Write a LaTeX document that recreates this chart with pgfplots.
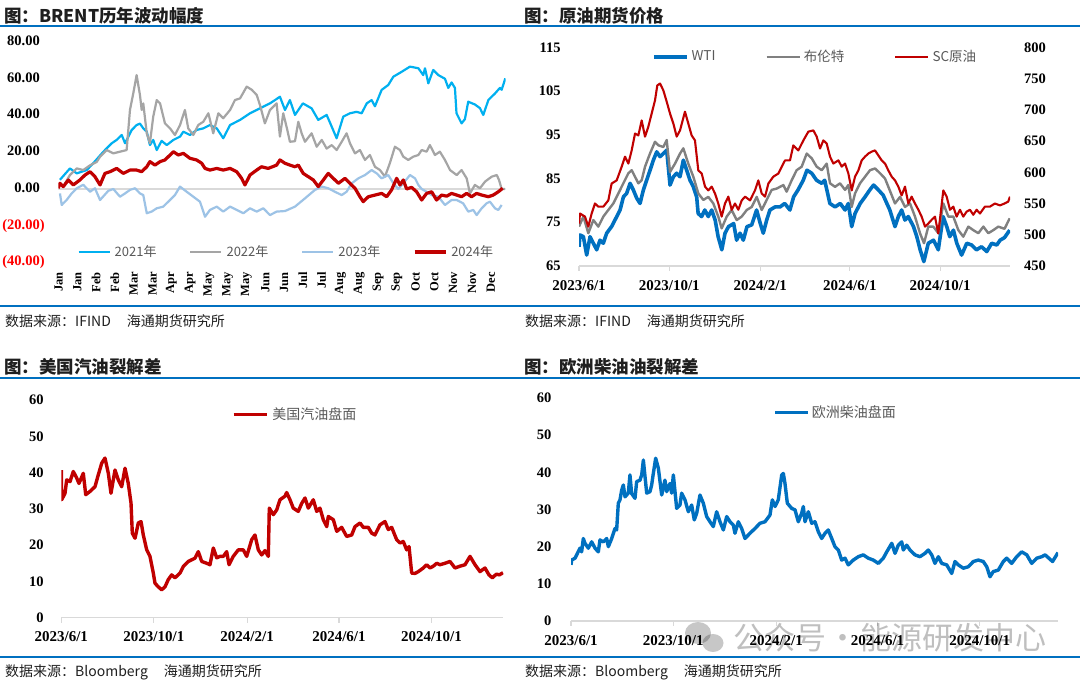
\documentclass[border=0pt]{standalone}
\usepackage{pgfplots}
\pgfplotsset{compat=1.18}
\usepackage{fontspec}
\setmainfont{Liberation Serif}
\newfontfamily\cjk{Noto Sans CJK SC}
\definecolor{c21}{HTML}{00B0F0}
\definecolor{c22}{HTML}{A5A5A5}
\definecolor{c23}{HTML}{9DC3E6}
\definecolor{c24}{HTML}{C00000}
\definecolor{wti}{HTML}{0070C0}
\definecolor{brent}{HTML}{808080}
\definecolor{rulec}{HTML}{0070C0}
\definecolor{legtxt}{HTML}{595959}
\definecolor{axl}{HTML}{D9D9D9}
\definecolor{titc}{HTML}{1F1F1F}
\definecolor{negred}{HTML}{FF0000}
\pgfplotsset{
  base/.style={scale only axis, anchor=south west,
    ytick style={draw=none},
    yticklabel style={anchor=east, inner sep=0pt, font=\bfseries\fontsize{14.5}{14.5}\selectfont},
    xticklabel style={inner sep=0pt},
    legend style={draw=none, fill=none, inner sep=0pt, outer sep=0pt, nodes={inner sep=0pt}},
  },
  dateaxis/.style={axis x line*=bottom, axis y line*=left, y axis line style={draw=none},
    x axis line style={draw=axl, line width=1.2pt},
    xtick style={draw=axl, line width=1.2pt}, tick align=outside, major tick length=5pt,
    xticklabel style={font=\bfseries\fontsize{15}{15}\selectfont, anchor=north, yshift=-9pt},
    xticklabels={2023/6/1,2023/10/1,2024/2/1,2024/6/1,2024/10/1},
    xtick={0,122,245,366,488}},
}
\begin{document}
\begin{tikzpicture}[x=1pt,y=1pt]
\useasboundingbox (0,0) rectangle (1080,683);
\fill[white] (0,0) rectangle (1080,683);
% rules
\draw[rulec, line width=2pt] (0,{683-26}) -- (1080,{683-26});
\draw[rulec, line width=2pt] (0,{683-305.7}) -- (1080,{683-305.7});
\draw[rulec, line width=2pt] (0,{683-377.7}) -- (1080,{683-377.7});
\draw[rulec, line width=2pt] (0,{683-657.3}) -- (1080,{683-657.3});
% titles
\node[anchor=west, inner sep=0pt, font=\cjk\bfseries\fontsize{17.5}{20}\selectfont, text=titc] at (4,{683-15.5}) {图：BRENT历年波动幅度};
\node[anchor=west, inner sep=0pt, font=\cjk\bfseries\fontsize{17.5}{20}\selectfont, text=titc] at (524,{683-15.5}) {图：原油期货价格};
\node[anchor=west, inner sep=0pt, font=\cjk\bfseries\fontsize{17.5}{20}\selectfont, text=titc] at (4,{683-367}) {图：美国汽油裂解差};
\node[anchor=west, inner sep=0pt, font=\cjk\bfseries\fontsize{17.5}{20}\selectfont, text=titc] at (524,{683-367}) {图：欧洲柴油油裂解差};
% sources
\node[anchor=west, inner sep=0pt, font=\cjk\fontsize{14}{16}\selectfont, text=titc] at (5,{683-321}) {数据来源：IFIND\hspace{16pt}海通期货研究所};
\node[anchor=west, inner sep=0pt, font=\cjk\fontsize{14}{16}\selectfont, text=titc] at (525,{683-321}) {数据来源：IFIND\hspace{16pt}海通期货研究所};
\node[anchor=west, inner sep=0pt, font=\cjk\fontsize{14}{16}\selectfont, text=titc] at (5,{683-672}) {数据来源：Bloomberg\hspace{16pt}海通期货研究所};
\node[anchor=west, inner sep=0pt, font=\cjk\fontsize{14}{16}\selectfont, text=titc] at (525,{683-672}) {数据来源：Bloomberg\hspace{16pt}海通期货研究所};

% ---------------- top-left ----------------
\begin{axis}[base, at={(58.5pt,420.5pt)}, width=447pt, height=220.5pt,
  xmin=0.86, xmax=256.3, ymin=-40, ymax=80,
  axis line style={draw=none}, xtick style={draw=none},
  ytick={-40,-20,0,20,40,60,80},
  yticklabels={{\color{negred}(40.00)},{\color{negred}(20.00)},0.00\phantom{)},20.00\phantom{)},40.00\phantom{)},60.00\phantom{)},80.00\phantom{)}},
  yticklabel style={xshift=-13.7pt},
  xtick={0.86,11.6,22.34,33.08,43.82,54.56,65.3,76.04,86.78,97.52,108.26,119,129.74,140.48,151.22,161.96,172.7,183.44,194.18,204.92,215.66,226.4,237.14,247.88},
  xticklabels={Jan,Jan,Feb,Feb,Mar,Mar,Apr,Apr,May,May,May,Jun,Jun,Jul,Jul,Aug,Aug,Sep,Sep,Oct,Oct,Nov,Nov,Dec},
  xticklabel shift=9.5pt,
  xticklabel style={rotate=90, anchor=east, font=\bfseries\fontsize{12.5}{12.5}\selectfont},
  legend columns=4,
  legend style={at={(0.0425,0.0476)}, anchor=west, font=\cjk\fontsize{13}{13}\selectfont, text=legtxt,
    /tikz/every odd column/.style={column sep=4pt}, /tikz/every even column/.style={column sep=32.8pt}},
  legend image code/.code={\draw[#1] (0pt,0pt) -- (31pt,0pt);},
  every axis plot/.append style={line join=round},
]
\draw[axl, line width=1.2pt] (axis cs:0.86,0) -- (axis cs:256.3,0);
\addplot[c21, line width=2.2pt] coordinates {(1.7,5) (7.4,11.2) (11.3,8.5) (17,10.3) (20.7,14) (26.5,20.3) (31.3,24.9) (34.1,26.7) (37,29.4) (38.9,24.9) (42.7,32.1) (45.5,34.8) (47.4,35.6) (49.3,33) (51.3,31.2) (53.1,23.9) (55,26.7) (57,21.2) (59.8,26.2) (62.7,23.9) (66.5,26.7) (70.3,28.5) (72.2,31.2) (76,29.4) (79.8,32.1) (83.6,33) (87.4,34.8) (91.3,33) (95,27.6) (98.9,34.8) (104.6,37.6) (110.3,41.2) (116,43.9) (121.7,46.6) (124.6,48.4) (127.4,50.2) (130.3,43) (133.1,48.4) (136,40.3) (140.5,46.6) (145.5,43.9) (149.3,37.6) (154.1,40.3) (157,33.9) (159.8,27.6) (163.6,39.4) (167.4,41.2) (171.2,42) (174.1,41.2) (177,46.6) (179.8,48.4) (181.7,45) (185.5,53.9) (189.3,56.6) (192.2,61.1) (197,63.8) (201.7,66.6) (206.5,65.7) (209.3,62) (210.3,65.7) (212.2,57.5) (215,64.8) (217.9,62) (221.7,60) (223.6,55) (225.5,58) (227.4,55) (228.3,41.2) (231.2,35.7) (233.1,38) (235,47.5) (238.8,46) (241.7,44) (243.6,40.3) (246.5,48.4) (250.3,52) (253.1,55) (254.1,54) (256.2,60.2)};
\addlegendentry{2021年}
\addplot[c22, line width=2.2pt] coordinates {(4.6,3.1) (7.4,7.6) (11.3,11.2) (15,10.3) (18.9,12.9) (22.7,14.7) (24.6,17.6) (28.4,21.2) (32.2,19.4) (36,20.3) (39.8,21.2) (41.7,43) (43.6,52.1) (45.5,62) (47.4,51.2) (48.4,43) (49.3,46.6) (51.3,30.3) (53.1,24.9) (55,39.4) (57,48.4) (58.9,46.6) (61.7,35.7) (64.6,33) (67.4,29.4) (70.3,34.8) (73.1,43) (75,33) (77.9,29.4) (80.7,34.8) (83.6,36.6) (86.5,41.2) (89.3,30.3) (92.2,41.2) (95,38.5) (98.9,43) (101.7,48.4) (104.6,49.3) (108.4,55.7) (111.3,54) (114.1,51.2) (116,45.7) (118.8,35.7) (121.7,43) (125.5,46.6) (127.4,28.5) (129.3,41.2) (131.4,33) (133.1,25.7) (136,26) (137.9,36.6) (139.8,30.3) (141.7,25.7) (145.5,30.3) (148.4,23) (151.3,26.7) (154.1,22) (157,23.9) (159.8,21.2) (162.7,25.7) (165.5,30.3) (167.4,24.9) (170.3,19.4) (173.1,21.2) (176,15.8) (178.8,18.5) (181.7,12.1) (184.6,10.3) (187.4,6.7) (190.2,14) (193.1,23) (196,21.2) (197.9,17.6) (200.7,15.8) (203.6,17.6) (206.5,18.5) (208.4,21.2) (211.2,20.3) (213.1,23.9) (216,18.5) (218.8,20.3) (221.7,15.8) (224.6,10.3) (228.4,7.6) (231.2,10.3) (234.1,5.8) (236,-2.4) (238.8,2.2) (241.7,0.4) (244.6,4) (248.4,6.7) (251.3,7.6) (252.6,4.9) (254.1,0) (256,0)};
\addlegendentry{2022年}
\addplot[c23, line width=2.2pt] coordinates {(1.7,-2.4) (2.7,-8.7) (5.5,-6) (8.4,-2.4) (11.3,0.4) (15,2.3) (18.9,-1.5) (21.7,0.4) (24.6,-6) (29.3,-1) (32.2,0) (36,-4.2) (38.9,-2.4) (41.7,-0.5) (44.6,0.4) (47.4,-2.4) (49.3,-3.3) (51.3,-13.2) (54.1,-12.3) (57,-10.5) (60.7,-9.6) (63.6,-6.9) (67.4,-3.3) (70.3,1.3) (74.1,-1.5) (77.9,-4.2) (81.7,-6.9) (84.6,-15.1) (87.4,-11.4) (91.3,-9.6) (95,-12.3) (98.9,-9.6) (102.7,-11.4) (106.5,-13.2) (110.3,-10.5) (114.1,-12.3) (117.9,-10.5) (121.7,-14.2) (125.5,-12.3) (130.3,-12) (136,-9.6) (141.7,-5.1) (147.4,-0.5) (151.3,1.3) (155,0.4) (158.8,-1.5) (162.7,-3.3) (165.5,-1.5) (168.4,3.1) (172.2,5.8) (176,7.6) (179.8,10.3) (182.7,8.5) (185.5,5.8) (189.3,7.6) (192.2,3.1) (195,0) (197.9,3.1) (201.7,7.6) (204.6,5.8) (206.5,2.2) (208.4,0) (211.2,-1.5) (214.1,-3.3) (217.9,-4.2) (221.7,-8.7) (225.5,-6) (228.4,-6) (232.1,-7.8) (235,-12.3) (237.9,-11.4) (239.8,-14.2) (242.7,-10.5) (245.5,-7.8) (247.4,-6.9) (250.3,-10.5) (252.2,-11.4) (254.1,-8.7)};
\addlegendentry{2023年}
\addplot[c24, line width=3.2pt] coordinates {(0.7,0.4) (1.7,3.1) (3.6,1.3) (6.5,4.9) (9.3,2.2) (13.1,4.9) (16,7.6) (18.9,9.4) (21.7,6.7) (24.6,2.2) (27.4,8.5) (30.3,9.4) (34.1,11.2) (37.9,8.5) (41.7,10.3) (45.5,10.3) (48.4,9.4) (51.3,12.1) (53.1,14.9) (56,13) (58.9,14.9) (61.7,15.8) (64.6,18.5) (66.5,20.3) (69.3,18.5) (72.2,19.4) (76,16.7) (79.8,15.8) (82.7,14) (84.6,11.2) (87.4,10.3) (91.3,11.2) (95,10.3) (98.9,11.2) (102.7,9.4) (105.5,5.8) (107.4,2.2) (110.3,7.6) (114.1,10.3) (116.9,12.1) (120.7,11.2) (125.5,13) (127.4,15.8) (130.3,14) (133.1,13) (136,12.1) (137.9,13) (140.7,8.5) (143.6,6.7) (146.5,4.9) (149.3,1.3) (152.2,4.9) (155,8.5) (157.9,5.8) (160.8,3.1) (164.6,5.8) (167.4,3.1) (170.3,0.4) (173.1,-4.2) (175,-6.9) (177.9,-4.2) (181.7,-3.3) (185.5,-2.4) (188.4,-4.2) (191.2,-0.5) (194.1,5.8) (196,2.2) (197.9,4.9) (199.8,0) (202.6,0.9) (205.5,-1.5) (208.4,-6) (211.2,-2.4) (214.1,-1.5) (216.9,-6) (219.8,-3.3) (222.7,-3.9) (225.5,-2.4) (228.4,-3.3) (231.2,-4.2) (234.1,-2.4) (236.9,-4.2) (239.8,-2.4) (242.7,-3.3) (246.5,-4.2) (249.3,-3.3) (252.2,-1.5) (254.7,0.4)};
\addlegendentry{2024年}
\end{axis}

% ---------------- top-right ----------------
\begin{axis}[base, dateaxis, at={(579pt,417pt)}, width=431pt, height=218.7pt,
  xmin=0, xmax=582.4, ymin=65, ymax=115,
  ytick={65,75,85,95,105,115}, yticklabels={65,75,85,95,105,115},
  yticklabel style={xshift=-13.2pt},
  every axis plot/.append style={line join=round}]
\addplot[wti, line width=3.6pt] coordinates {(0,69.4) (1.4,72.1) (5.9,71.7) (10.4,67.5) (14.9,71.7) (19.4,70.2) (23.9,68.7) (28.4,70.9) (32.8,70.2) (37.4,72.5) (44,74) (51,76.3) (55.5,77.8) (60,80.8) (64.4,81.6) (69,83.9) (73.4,82.4) (78,80.5) (82.5,79.3) (87,82.4) (91.4,84.6) (96,86.9) (100.5,89.2) (105,91.1) (109.5,90) (114,90.7) (118.5,91.5) (123,83.5) (127.5,85.4) (132,86.2) (136.5,85.4) (141,89.2) (145.5,86.9) (150,84.6) (154.5,83.1) (159,80.8) (161,77) (165.7,76.3) (170,77.8) (174.7,76.3) (179.3,77.8) (184,75.5) (188,71.7) (193,68.7) (197.3,72.5) (202,74) (209,74.7) (213,70.9) (217.6,72.5) (222,70.9) (227,74) (233.4,74.4) (240,77.8) (245,74.7) (249,72.5) (253.6,75.5) (258,77.8) (264.9,78.5) (271.6,78.5) (278,79.3) (285,77.8) (290,80.8) (296,82.4) (303,84.6) (308,86.9) (314.5,86.2) (321,84.6) (328,83.9) (332,84.6) (339,79.3) (346,78.5) (353,79.3) (359.5,77.8) (364,79.3) (368.5,74) (373,77) (380,79.3) (386.5,80.8) (393,82.4) (398,83.5) (404.5,82.4) (411,81.2) (416,79.3) (420,77.8) (427,74) (431.5,76.3) (436,77.8) (440.5,75.5) (445,76.3) (452,74) (456.5,71.7) (461,68.7) (466,66) (472,70.2) (479,70.9) (485.5,68.7) (492,76.3) (497,74) (501,71.7) (506,73.2) (510.5,70.2) (517,67.5) (524,70.2) (530.5,69.8) (537,68.7) (544,69.4) (551,68.3) (557.7,70.2) (564.5,69.8) (569,70.9) (575,71.5) (582,73.2)};
\addplot[brent, line width=2.4pt] coordinates {(0,74) (5.9,76.3) (12.6,72.5) (19.4,75.5) (26.1,74) (32.9,76.3) (39.6,77.8) (46.4,79.3) (53.2,81.6) (59.9,83.9) (66.7,86.2) (71.2,86.9) (75.7,85.4) (80.2,83.9) (84.7,84.6) (89.2,87.7) (95.9,90.7) (102.7,93.4) (107.2,92.6) (114,92.2) (118.5,93.8) (123,86.5) (129.7,88.4) (136.5,90.7) (141,91.9) (147.7,88.4) (154.5,85.4) (161.2,81.6) (168,80.1) (174.7,80.8) (181.5,79.3) (188.2,76.3) (192.8,73.6) (199.6,76.3) (206.3,77.8) (213.1,75.5) (219.9,76.3) (226.6,77.8) (233.4,78.5) (240.1,80.8) (246.9,77.8) (253.6,80.1) (260.4,82.4) (267.2,82.7) (271.6,83.1) (276.1,83.5) (280.6,82) (287.4,84.6) (294.1,86.9) (300.9,87.7) (307.7,90.7) (314.5,89.6) (321.2,87.7) (328,86.9) (334.7,88.4) (339.2,83.9) (346,83.1) (352.7,83.9) (359.5,82.4) (363.9,83.5) (368.5,78.5) (373,81.6) (379.7,83.9) (386.5,85.4) (393.2,86.9) (400,87.3) (406.8,86.2) (413.5,85) (418,83.1) (427,79.3) (433.8,80.8) (440.5,78.5) (447.3,79.3) (454,76.3) (460.8,72.5) (466.2,70.2) (472,74) (478.8,74) (485.5,72.5) (492.3,79.3) (499,76.3) (505.8,76.3) (512.6,73.2) (519.3,71.7) (526.1,74) (532.8,73.2) (539.6,72.5) (546.4,74) (553.1,72.5) (559.9,73.2) (566.6,74) (575,73.5) (582,75.9)};
\end{axis}
\begin{axis}[base, at={(579pt,417pt)}, width=431pt, height=218.7pt,
  xmin=0, xmax=582.4, ymin=450, ymax=800,
  axis x line=none, axis y line*=right, y axis line style={draw=none},
  ytick={450,500,550,600,650,700,750,800}, yticklabels={450,500,550,600,650,700,750,800},
  yticklabel style={anchor=west, xshift=13.8pt},
  legend columns=3,
  legend style={at={(0.1694,0.957)}, anchor=west, font=\cjk\fontsize{13.5}{13.5}\selectfont, text=legtxt,
    /tikz/every odd column/.style={column sep=3pt}, /tikz/every even column/.style={column sep=50pt}},
  legend image code/.code={\draw[#1] (0pt,0pt) -- (33pt,0pt);},
  every axis plot/.append style={line join=round}]
\addlegendimage{wti, line width=3.6pt}
\addlegendentry{WTI}
\addlegendimage{brent, line width=2.4pt}
\addlegendentry{布伦特}
\addplot[c24, line width=2.1pt] coordinates {(0,518) (1.4,534) (8.1,529) (12.6,513) (17.1,534) (21.6,550) (26.1,545) (32.9,545) (39.6,555) (44.1,582) (50.9,587) (57.7,609) (62.2,625) (66.7,614) (71.2,635) (75.7,662) (80.2,659) (84.7,683) (89.2,657) (93.7,673) (98.2,694) (102.7,715) (105.8,739) (109.5,742) (114,731) (118.5,713) (123,694) (127.5,678) (132,657) (136.5,667) (143.2,697) (147.7,678) (152.2,659) (156.7,651) (161.2,603) (165.8,598) (170.3,577) (174.7,571) (179.3,577) (183.8,566) (188.2,550) (192.8,529) (197.3,550) (201.8,561) (206.3,540) (210.8,550) (215.3,540) (219.9,555) (224.4,561) (231.1,555) (237.8,571) (242.3,587) (246.9,566) (251.4,561) (255.9,582) (262.6,593) (269.4,598) (276.1,614) (278.4,619) (285.1,619) (289.6,643) (296.4,635) (303.2,651) (309.9,665) (316.7,667) (321.2,657) (325.7,638) (330.2,651) (334.7,646) (339.2,625) (343.7,614) (350.5,619) (355,609) (359.5,614) (364,598) (368.5,571) (373,593) (377.5,603) (382,619) (386.5,625) (391,630) (395.5,633) (400,635) (404.5,627) (409,619) (413.5,614) (418,603) (422.5,593) (427,587) (431.5,577) (436,563) (440.5,577) (445,550) (449.5,561) (454,550) (458.6,540) (463,529) (467.6,513) (472,518) (476.6,524) (481,529) (485.5,502) (492.3,571) (496.8,561) (501.3,540) (505.8,545) (510.3,529) (514.8,540) (519.3,529) (523.8,537) (528.3,540) (532.8,532) (537.3,540) (541.8,534) (548.5,545) (555.3,545) (562,550) (568.8,547) (575,550) (580,553) (582.4,561)};
\addlegendentry{SC原油}
\end{axis}

% ---------------- bottom-left ----------------
\begin{axis}[base, dateaxis, at={(61.3pt,65.3pt)}, width=442.1pt, height=217.7pt,
  xmin=0, xmax=582.8, ymin=0, ymax=60,
  ytick={0,10,20,30,40,50,60}, yticklabels={0,10,20,30,40,50,60},
  yticklabel style={xshift=-12.4pt},
  legend style={at={(0.386,0.9325)}, anchor=west, font=\cjk\fontsize{14}{14}\selectfont, text=legtxt,
    /tikz/every odd column/.style={column sep=4pt}},
  legend image code/.code={\draw[#1] (0pt,0pt) -- (33pt,0pt);},
  every axis plot/.append style={line join=round}]
\addplot[c24, line width=3.4pt] coordinates {(0,40.7) (0.5,32.5) (4.9,34.3) (7.1,38) (11.5,37.5) (15.8,40.3) (20.3,38.5) (23.3,37) (29,39.8) (32.2,33.9) (37.8,34.8) (44.4,36.1) (48.8,39.4) (53.3,42.6) (57.6,44) (62,39.8) (65.5,34.3) (70.8,40.7) (75.1,38) (79.6,36.1) (84,41.2) (88.3,37) (91.9,31.6) (93.6,23.3) (97.2,21.9) (101.5,26.1) (105.1,26.5) (108.1,22.8) (112.6,18.7) (116.9,16.9) (121.3,12.3) (123.5,9.5) (127.9,8.5) (132.3,7.7) (136.7,8.5) (141,10.5) (145.5,11.8) (149.9,11) (156.5,12.3) (160.8,14.1) (167.4,15.5) (176.2,16.4) (180.6,18.2) (185.1,15.5) (191.7,15) (196,14.6) (200.4,19.2) (204.9,16.5) (209.2,16.9) (213.6,16.9) (218,18.2) (221.1,14.6) (226.7,16.9) (233.3,18.7) (239.9,18.7) (244.4,16.9) (251,21.5) (255.3,22.8) (259.7,18.7) (264.2,17.3) (268.5,18.5) (272.9,16.9) (274.2,30.2) (279.5,28.4) (283.9,29.7) (288.3,32.5) (294.9,33.5) (297.1,34.5) (301.5,32.5) (305.8,30.2) (312.4,29.3) (316.9,31.5) (321.3,33) (325.6,30.2) (332.2,32.5) (336.7,29.3) (341,30.2) (345.4,27) (349.9,25.1) (352,27.9) (358.6,27) (363.1,23.8) (369.6,24.9) (376.2,22.4) (382.8,22.8) (387.2,25.1) (393.8,26.1) (398.1,24.9) (404.7,24.9) (409.2,23.3) (413.5,22.8) (420.1,25.6) (426.7,26.5) (431,24.3) (435.5,24.9) (442.1,21.5) (446.5,20.6) (450.8,21) (455.3,18.7) (458.4,19.6) (461.9,12.3) (466.3,12.2) (470.6,12.7) (477.2,13.7) (481.7,14.6) (486,13.7) (490.4,14.2) (494.9,15) (499.2,14.6) (505.8,15) (512.4,15.5) (519,13.7) (525.6,14.2) (532.2,14.6) (538.8,16.9) (545.4,14.6) (552,12.7) (558.5,13.7) (563.8,11.8) (568.3,11) (573.5,12) (577.5,11.8) (582.3,12.4)};
\addlegendentry{美国汽油盘面}
\end{axis}

% ---------------- bottom-right ----------------
\begin{axis}[base, dateaxis, at={(571pt,62pt)}, width=487pt, height=223pt,
  xmin=0, xmax=581.5, ymin=0, ymax=60,
  ytick={0,10,20,30,40,50,60}, yticklabels={0,10,20,30,40,50,60},
  yticklabel style={xshift=-14.5pt},
  legend style={at={(0.4158,0.934)}, anchor=west, font=\cjk\fontsize{14}{14}\selectfont, text=legtxt,
    /tikz/every odd column/.style={column sep=2pt}},
  legend image code/.code={\draw[#1] (0pt,0pt) -- (33pt,0pt);},
  every axis plot/.append style={line join=round}]
\addplot[wti, line width=3.4pt] coordinates {(0,15.1) (0.8,16.4) (4.8,16.9) (6.8,17.8) (10.7,19.6) (12.7,18.6) (14.7,22.2) (16.7,20.9) (20.7,19.6) (24.7,21.3) (28.7,19.6) (32.6,18.6) (34.6,21.8) (38.6,21.3) (42.6,22.2) (44.6,20) (48.6,22.2) (52.5,24.9) (54.5,24.5) (56.5,31.7) (58.5,32.6) (60.5,35.2) (62.5,36.6) (64.5,33.4) (68.4,34.4) (70.4,39.3) (72.4,34.3) (76.4,33) (78.4,37.5) (82.4,37.9) (84.4,39.3) (86.4,43.3) (88.4,38.8) (90.4,34.4) (94.3,34.8) (96.3,36.6) (98.3,39.7) (101.1,43.8) (104.3,41.1) (108.3,33.9) (112.2,37.9) (114.2,34.8) (118.2,37) (120.2,34.4) (122.2,39.3) (126.2,30.3) (130.1,31.2) (132.1,34.4) (136.1,32.6) (140.1,29.4) (144.1,31.2) (147.2,27.2) (150.1,29) (154,33.9) (158,31.7) (162,28.1) (166,26.7) (169.9,25.4) (173.9,29.4) (177.9,26.7) (181.9,24.5) (185.9,28.1) (189.9,26.7) (193.8,25.8) (195.8,23.6) (199.8,26.7) (203.8,24.9) (207.8,22.2) (213.7,23.6) (219.7,24.9) (225.7,26.3) (231.6,26.7) (237.6,28.5) (240.4,32.6) (243.6,30.8) (247.5,32.6) (251.6,39.3) (253.5,39.7) (255.5,37) (258.3,31.7) (263.5,30.3) (267.5,29.9) (271.4,26.7) (275.4,29) (277.4,30.8) (279.4,26.7) (283.4,29.4) (287.4,26.3) (291.3,26.7) (295.3,24) (299.3,22.2) (303.3,23.6) (307.2,24.5) (311.3,22.2) (315.2,20) (319.2,19.1) (323.2,16.4) (327.2,16.9) (331.1,15.1) (337.1,16.4) (343,17.3) (349,17.8) (355,16.9) (360.9,16.4) (366.9,15.5) (372.9,16.9) (377,18.6) (383,20.9) (386.9,18.2) (390.8,20.4) (394.9,21.3) (396.8,19.1) (400.8,20.4) (404.8,19.1) (410.7,17.8) (416.7,17.3) (422.7,18.2) (426.6,19.1) (430.7,17.8) (434.6,15.5) (438.6,17.3) (442.6,15.5) (448.6,15.1) (454.6,12.8) (458.5,16) (462.4,15.1) (468.4,14.2) (474.4,14.6) (480.4,16) (486.3,16.4) (492.3,16) (496.4,14.6) (500.3,11.9) (504.2,13.3) (510.2,13.7) (516.2,16) (520.2,16.9) (526.2,15.5) (532.2,17.3) (538.2,18.6) (544.2,17.8) (550.1,15.5) (556.1,16.9) (562.1,17.3) (566.1,17.8) (575,16) (581.5,18.4)};
\addlegendentry{欧洲柴油盘面}
\end{axis}

% watermark
\fill[black, opacity=0.22] (698,{683-633}) ellipse (13pt and 11pt);
\fill[black, opacity=0.22] (713,{683-643}) ellipse (10.5pt and 9pt);
\node[anchor=west, inner sep=0pt, font=\cjk\fontsize{31}{31}\selectfont, text=black, opacity=0.25] at (733,{683-638}) {公众号\makebox[34pt]{·}能源研发中心};
\end{tikzpicture}
\end{document}
